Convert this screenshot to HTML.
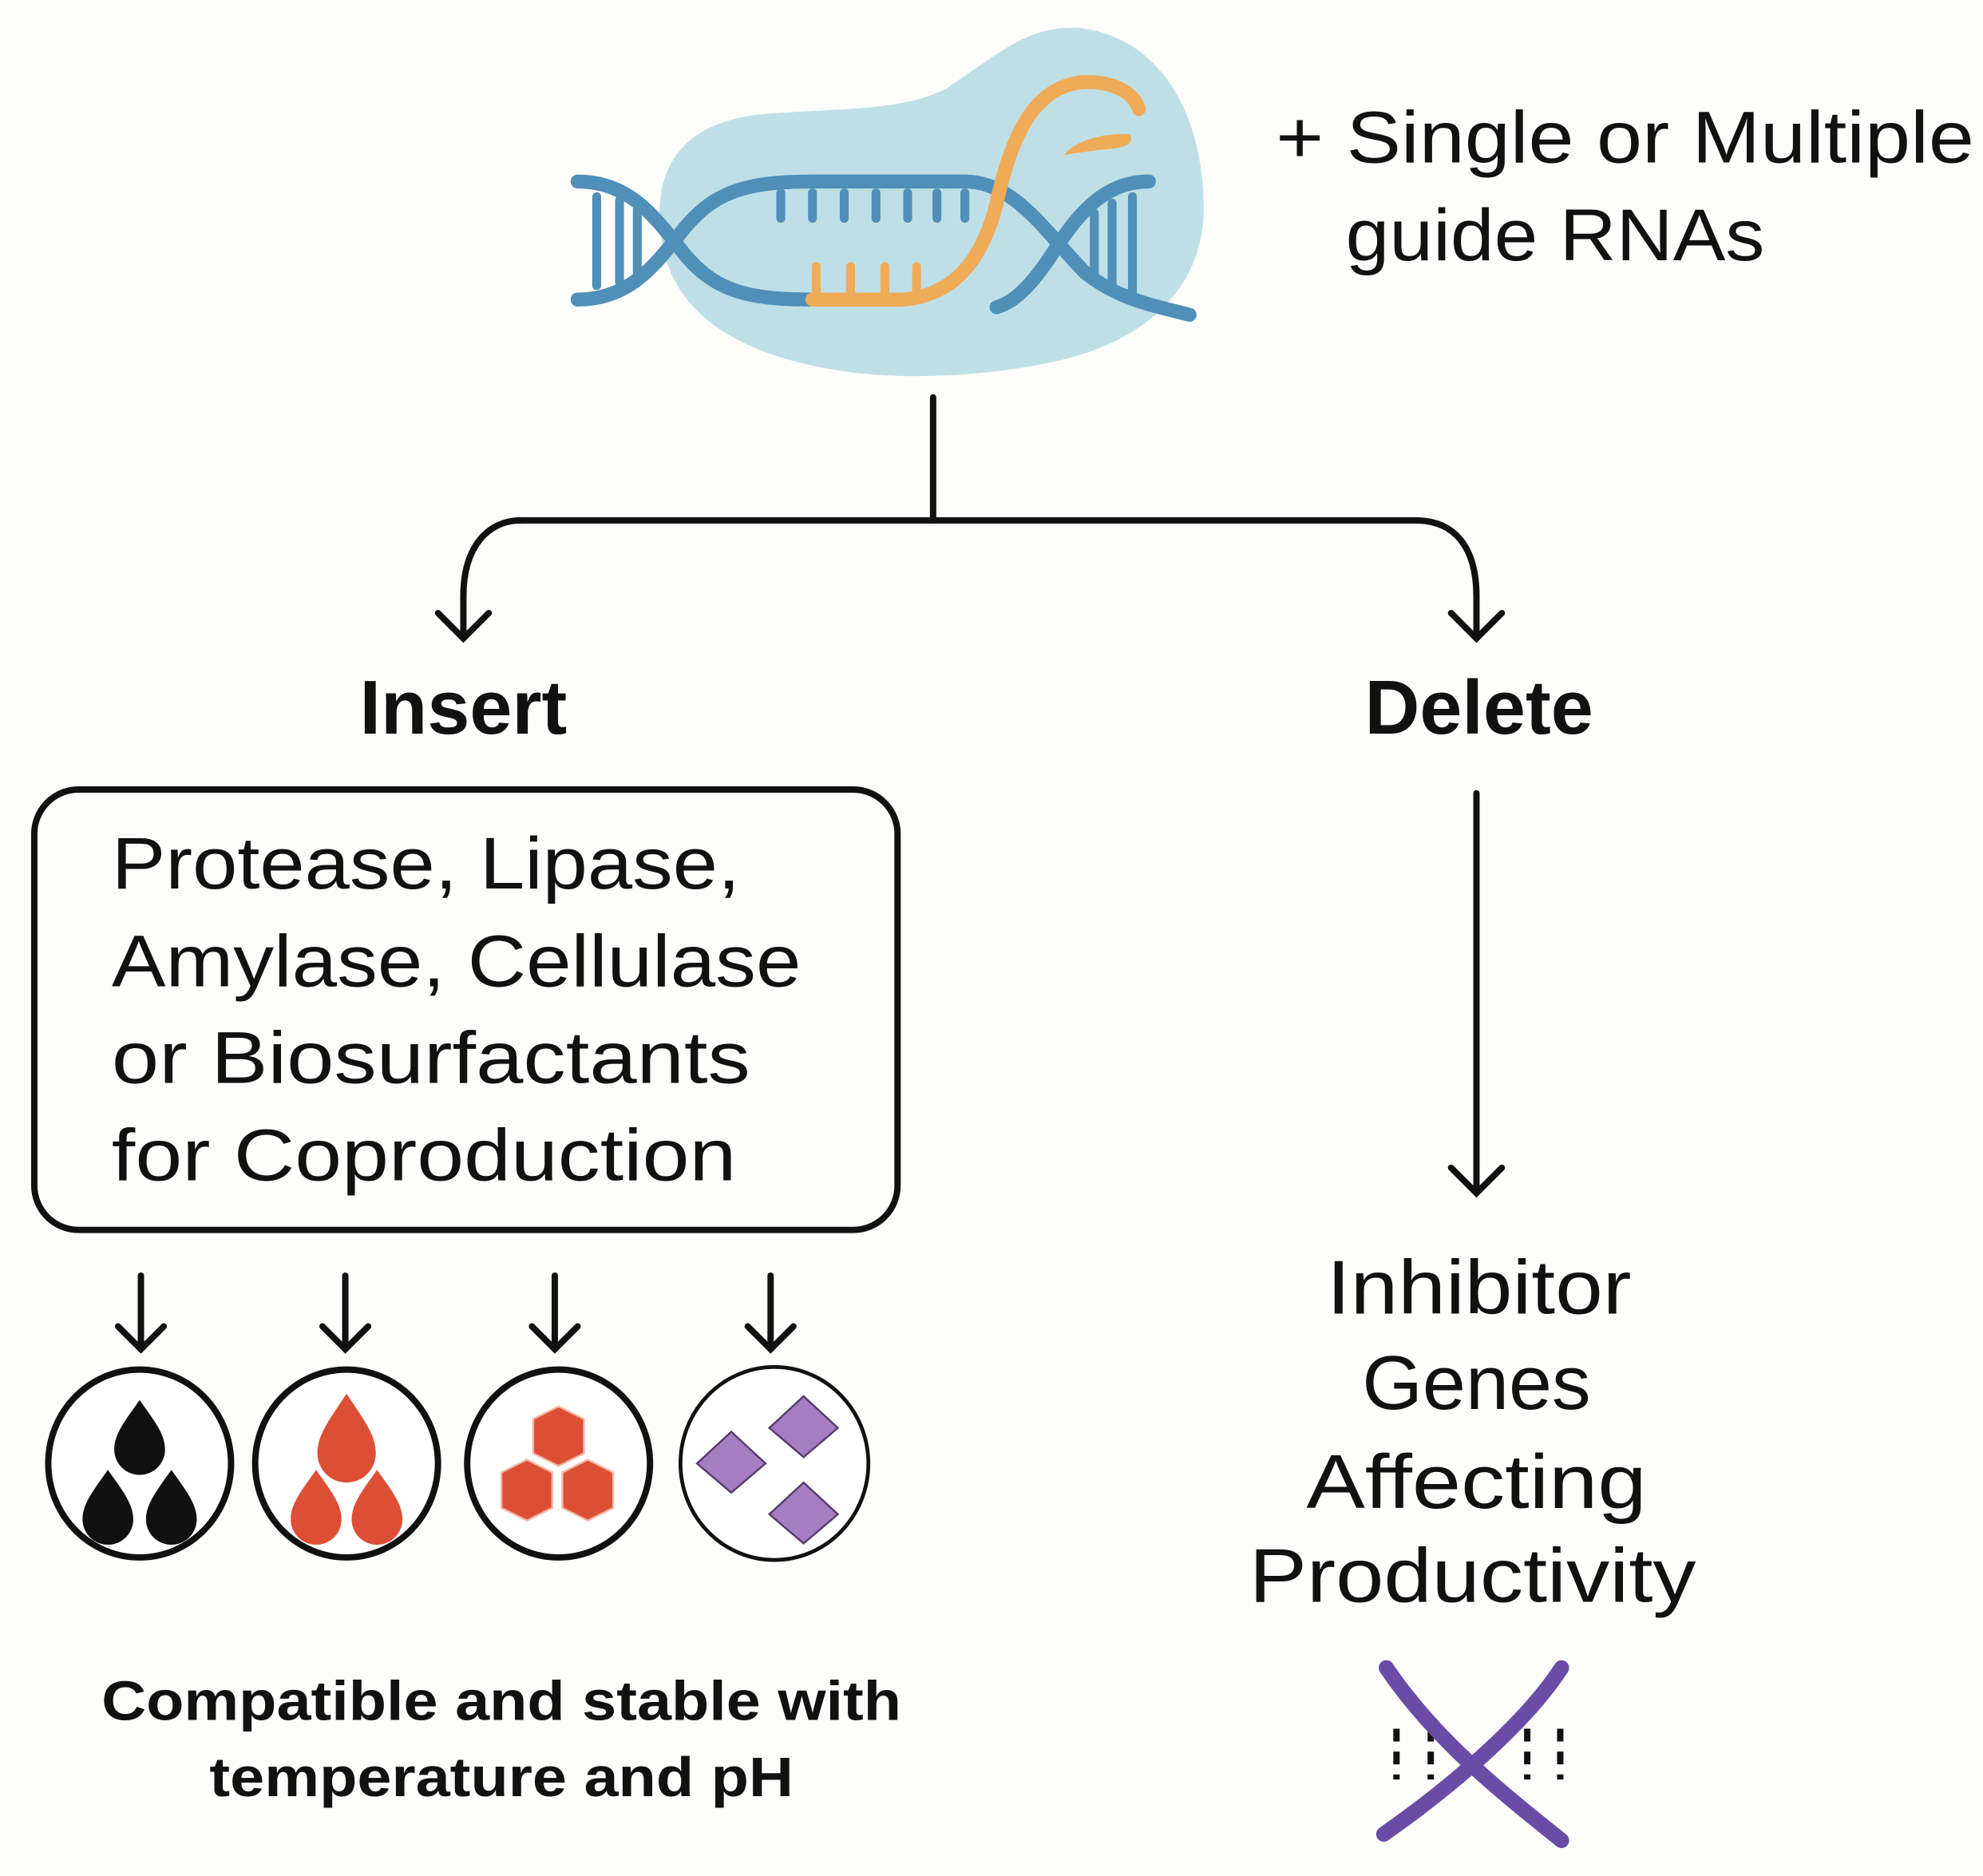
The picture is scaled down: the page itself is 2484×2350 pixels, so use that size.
<!DOCTYPE html>
<html><head><meta charset="utf-8"><style>
html,body{margin:0;padding:0;background:#fdfdfc;}
svg{display:block;}
text{font-family:"Liberation Sans",Arial,sans-serif;fill:#111;}
</style></head><body>
<svg width="2484" height="2350" viewBox="0 0 1562 1478" preserveAspectRatio="none" xmlns="http://www.w3.org/2000/svg">
<rect width="1562" height="1478" fill="#fdfdfc"/>
<!-- blob -->
<path d="M520,180 C515,120 550,95 600,90 C660,85 710,88 745,70 C790,40 810,20 850,22 C920,30 950,100 948,170 C945,230 900,270 830,285 C770,298 700,300 650,290 C570,275 525,240 520,180 Z" fill="#bfdfe7"/>
<!-- DNA -->
<g fill="none" stroke="#4f8fb8" stroke-width="11" stroke-linecap="round">
<path d="M455,143 C495,143 515,170 535,195 C560,228 585,236 640,236"/>
<path d="M455,236 C495,236 515,210 535,185 C560,152 585,143 640,143 L760,143 C800,143 825,185 855,215 C880,235 905,240 937,248"/>
<path d="M905,143 C870,143 850,168 832,195 C815,222 800,238 785,242"/>
</g>
<g stroke="#4f8fb8" stroke-width="7" stroke-linecap="round">
<line x1="470" y1="155" x2="470" y2="225"/><line x1="488" y1="158" x2="488" y2="222"/><line x1="502" y1="165" x2="502" y2="215"/>
<line x1="615" y1="152" x2="615" y2="172"/><line x1="640" y1="152" x2="640" y2="172"/><line x1="665" y1="152" x2="665" y2="172"/><line x1="690" y1="152" x2="690" y2="172"/><line x1="715" y1="152" x2="715" y2="172"/><line x1="738" y1="152" x2="738" y2="172"/><line x1="760" y1="152" x2="760" y2="172"/>
<line x1="892" y1="155" x2="892" y2="230"/><line x1="876" y1="160" x2="876" y2="225"/><line x1="862" y1="168" x2="862" y2="215"/>
</g>
<g fill="none" stroke="#efab58" stroke-width="11" stroke-linecap="round">
<path d="M640,236 L712,236 C755,232 775,200 785,160 C797,105 815,70 850,65 C875,63 893,72 897,86"/>
</g>
<g stroke="#efab58" stroke-width="7" stroke-linecap="round">
<line x1="643" y1="210" x2="643" y2="232"/><line x1="670" y1="210" x2="670" y2="232"/><line x1="697" y1="210" x2="697" y2="232"/><line x1="722" y1="210" x2="722" y2="232"/>
</g>
<path d="M838,122 C848,110 872,104 890,106 C894,114 886,117 866,118 Z" fill="#efab58"/>
<!-- top text -->
<text x="1005" y="128" font-size="58" textLength="550" lengthAdjust="spacingAndGlyphs">+ Single or Multiple</text>
<text x="1060" y="205" font-size="58" textLength="330" lengthAdjust="spacingAndGlyphs">guide RNAs</text>
<!-- connectors -->
<g fill="none" stroke="#111" stroke-width="5" stroke-linecap="round">
<line x1="735" y1="313" x2="735" y2="410"/>
<path d="M410,410 L1115,410 C1145,410 1163,430 1163,470 L1163,503"/>
<path d="M410,410 C385,410 365,430 365,470 L365,503"/>
<path d="M345,483 L365,503 L385,483"/>
<path d="M1143,483 L1163,503 L1183,483"/>
<line x1="1163" y1="625" x2="1163" y2="940"/>
<path d="M1143,920 L1163,940 L1183,920"/>
<line x1="111" y1="1005" x2="111" y2="1063"/><path d="M93,1045 L111,1063 L129,1045"/>
<line x1="272" y1="1005" x2="272" y2="1063"/><path d="M254,1045 L272,1063 L290,1045"/>
<line x1="437" y1="1005" x2="437" y2="1063"/><path d="M419,1045 L437,1063 L455,1045"/>
<line x1="607" y1="1005" x2="607" y2="1063"/><path d="M589,1045 L607,1063 L625,1045"/>
</g>
<text x="365" y="578" font-size="60" font-weight="bold" text-anchor="middle">Insert</text>
<text x="1165" y="578" font-size="60" font-weight="bold" text-anchor="middle">Delete</text>
<rect x="27" y="622" width="680" height="347" rx="35" fill="none" stroke="#111" stroke-width="5"/>
<g font-size="58">
<text x="88" y="700" textLength="495" lengthAdjust="spacingAndGlyphs">Protease, Lipase,</text>
<text x="88" y="777" textLength="543" lengthAdjust="spacingAndGlyphs">Amylase, Cellulase</text>
<text x="88" y="853" textLength="503" lengthAdjust="spacingAndGlyphs">or Biosurfactants</text>
<text x="88" y="930" textLength="492" lengthAdjust="spacingAndGlyphs">for Coproduction</text>
</g>
<!-- circles -->
<g fill="#fff" stroke="#111" stroke-width="5">
<ellipse cx="110" cy="1153" rx="72" ry="74"/>
<ellipse cx="273" cy="1153" rx="72" ry="74"/>
<ellipse cx="440" cy="1153" rx="72" ry="74"/>
<ellipse cx="610" cy="1153" rx="74" ry="76" stroke-width="3"/>
</g>
<g fill="#111">
<path d="M110,1103 C98,1120 90,1130 90,1142 A20,20 0 0 0 130,1142 C130,1130 122,1120 110,1103 Z"/>
<path d="M85,1158 C73,1175 65,1185 65,1197 A20,20 0 0 0 105,1197 C105,1185 97,1175 85,1158 Z"/>
<path d="M135,1158 C123,1175 115,1185 115,1197 A20,20 0 0 0 155,1197 C155,1185 147,1175 135,1158 Z"/>
</g>
<g fill="#dd4f35">
<path d="M273,1098 C260,1118 250,1130 250,1145 A23,23 0 0 0 296,1145 C296,1130 286,1118 273,1098 Z"/>
<path d="M249,1158 C237,1175 229,1185 229,1197 A20,20 0 0 0 269,1197 C269,1185 261,1175 249,1158 Z"/>
<path d="M297,1158 C285,1175 277,1185 277,1197 A20,20 0 0 0 317,1197 C317,1185 309,1175 297,1158 Z"/>
</g>
<g fill="#dd4f35" stroke="#f3b9a8" stroke-width="1.5">
<path d="M440,1108 L460,1118 L460,1145 L440,1155 L420,1145 L420,1118 Z"/>
<path d="M415,1150 L435,1160 L435,1188 L415,1198 L395,1188 L395,1160 Z"/>
<path d="M463,1150 L483,1160 L483,1188 L463,1198 L443,1188 L443,1160 Z"/>
</g>
<g fill="#a47ec0" stroke="#553a6e" stroke-width="1.5">
<path d="M633,1100 L660,1125 L633,1148 L606,1125 Z"/>
<path d="M576,1128 L603,1153 L576,1176 L549,1153 Z"/>
<path d="M633,1168 L660,1193 L633,1216 L606,1193 Z"/>
</g>
<g font-size="44" font-weight="bold" text-anchor="middle">
<text x="395" y="1355" textLength="630" lengthAdjust="spacingAndGlyphs">Compatible and stable with</text>
<text x="395" y="1415" textLength="460" lengthAdjust="spacingAndGlyphs">temperature and pH</text>
</g>
<g font-size="60" text-anchor="middle">
<text x="1165" y="1035" textLength="240" lengthAdjust="spacingAndGlyphs">Inhibitor</text>
<text x="1163" y="1110" textLength="180" lengthAdjust="spacingAndGlyphs">Genes</text>
<text x="1163" y="1188" textLength="268" lengthAdjust="spacingAndGlyphs">Affecting</text>
<text x="1160" y="1262" textLength="352" lengthAdjust="spacingAndGlyphs">Productivity</text>
</g>
<g stroke="#111" stroke-width="5" stroke-dasharray="10,8">
<line x1="1100" y1="1362" x2="1100" y2="1402"/><line x1="1127" y1="1362" x2="1127" y2="1402"/>
<line x1="1203" y1="1362" x2="1203" y2="1402"/><line x1="1229" y1="1362" x2="1229" y2="1402"/>
</g>
<g fill="none" stroke="#6a4ca6" stroke-width="12" stroke-linecap="round">
<path d="M1092,1314 C1130,1370 1180,1410 1230,1450"/>
<path d="M1230,1314 C1200,1360 1140,1410 1090,1445"/>
</g>
</svg>
</body></html>
